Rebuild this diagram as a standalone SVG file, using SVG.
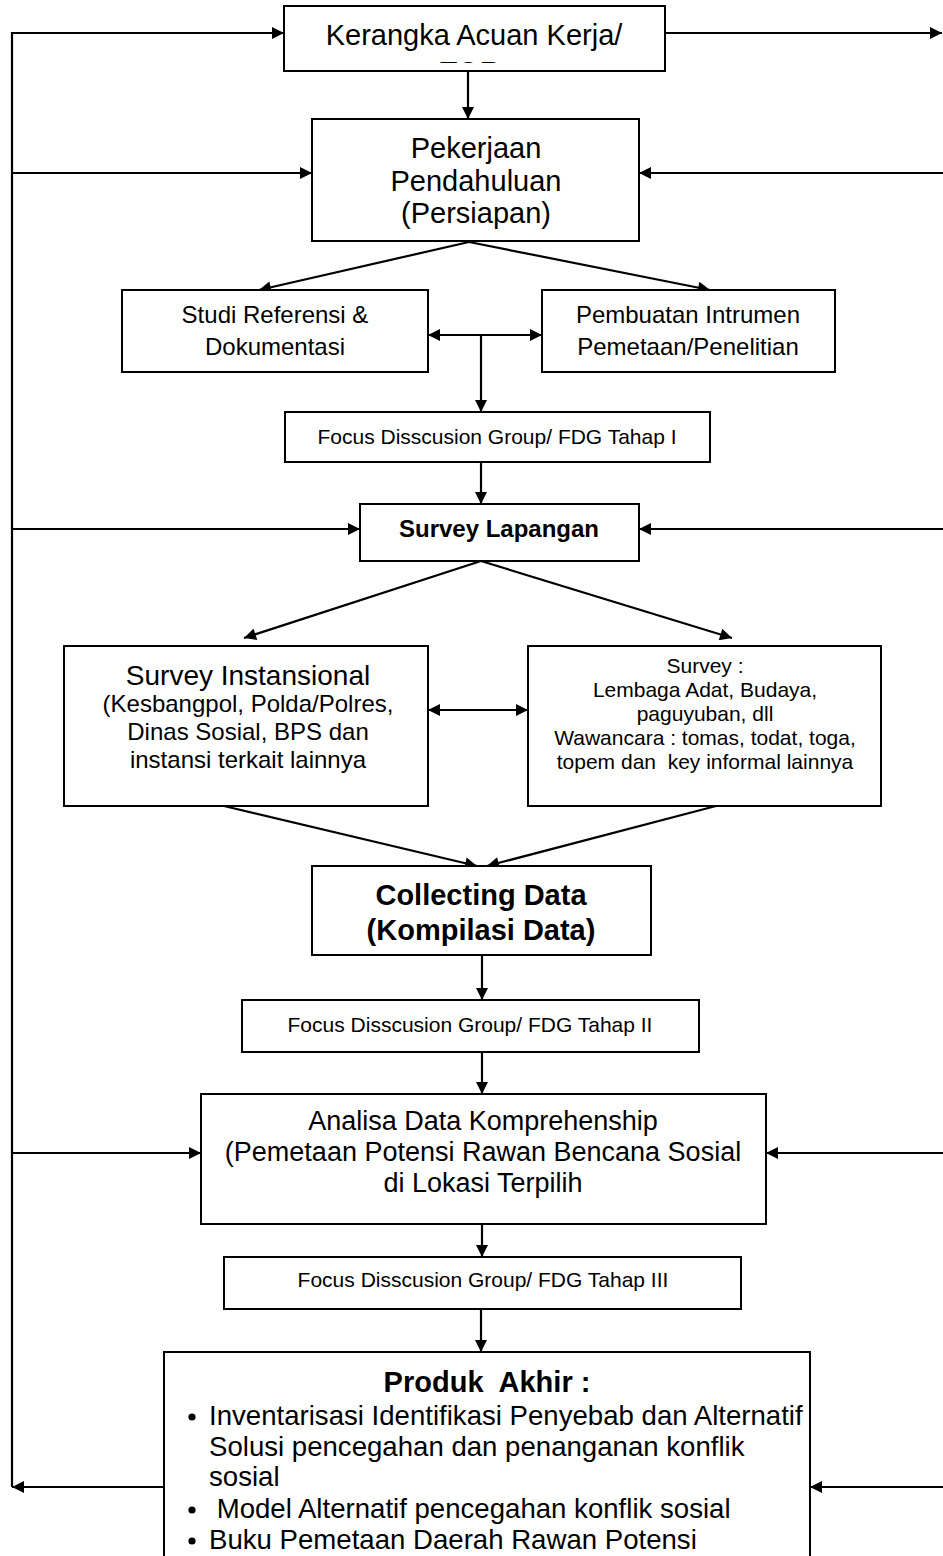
<svg xmlns="http://www.w3.org/2000/svg" width="943" height="1556" viewBox="0 0 943 1556">
<style>
.box{fill:#fff;stroke:#000;stroke-width:2}
.ln{fill:none;stroke:#000;stroke-width:2.2}
.t{font-family:"Liberation Sans",Arial,sans-serif;fill:#000;text-anchor:middle}
.b{font-weight:bold}
.l{text-anchor:start}
</style>
<defs>
<marker id="ah" viewBox="0 0 12 12" refX="12" refY="6" markerWidth="13" markerHeight="12" markerUnits="userSpaceOnUse" orient="auto-start-reverse"><path d="M0,0 L12,6 L0,12 z" fill="#000"/></marker>
<clipPath id="torclip"><rect x="284" y="58" width="381" height="5"/></clipPath>
</defs>
<rect width="943" height="1556" fill="#fff"/>
<g id="connectors">
<polyline class="ln" points="12,1487 12,33 284,33" marker-end="url(#ah)"/>
<line class="ln" x1="665" y1="33" x2="942" y2="33" marker-end="url(#ah)"/>
<line class="ln" x1="468" y1="71" x2="468" y2="119" marker-end="url(#ah)"/>
<line class="ln" x1="12" y1="173" x2="312" y2="173" marker-end="url(#ah)"/>
<line class="ln" x1="943" y1="173" x2="639" y2="173" marker-end="url(#ah)"/>
<line class="ln" x1="469" y1="242" x2="259" y2="290" marker-end="url(#ah)"/>
<line class="ln" x1="469" y1="242" x2="710" y2="290" marker-end="url(#ah)"/>
<line class="ln" x1="428" y1="335" x2="542" y2="335" marker-start="url(#ah)" marker-end="url(#ah)"/>
<line class="ln" x1="481" y1="335" x2="481" y2="412" marker-end="url(#ah)"/>
<line class="ln" x1="481" y1="462" x2="481" y2="504" marker-end="url(#ah)"/>
<line class="ln" x1="12" y1="529" x2="360" y2="529" marker-end="url(#ah)"/>
<line class="ln" x1="943" y1="529" x2="639" y2="529" marker-end="url(#ah)"/>
<line class="ln" x1="481" y1="561" x2="244" y2="638" marker-end="url(#ah)"/>
<line class="ln" x1="481" y1="561" x2="732" y2="638" marker-end="url(#ah)"/>
<line class="ln" x1="428" y1="710" x2="528" y2="710" marker-start="url(#ah)" marker-end="url(#ah)"/>
<line class="ln" x1="224" y1="806" x2="477" y2="866" marker-end="url(#ah)"/>
<line class="ln" x1="716" y1="806" x2="487" y2="866" marker-end="url(#ah)"/>
<line class="ln" x1="482" y1="955" x2="482" y2="1000" marker-end="url(#ah)"/>
<line class="ln" x1="482" y1="1052" x2="482" y2="1094" marker-end="url(#ah)"/>
<line class="ln" x1="12" y1="1153" x2="201" y2="1153" marker-end="url(#ah)"/>
<line class="ln" x1="943" y1="1153" x2="766" y2="1153" marker-end="url(#ah)"/>
<line class="ln" x1="482" y1="1224" x2="482" y2="1257" marker-end="url(#ah)"/>
<line class="ln" x1="481" y1="1309" x2="481" y2="1352" marker-end="url(#ah)"/>
<line class="ln" x1="164" y1="1487" x2="12" y2="1487" marker-end="url(#ah)"/>
<line class="ln" x1="943" y1="1487" x2="810" y2="1487" marker-end="url(#ah)"/>
</g>
<g id="kak">
<rect class="box" x="284" y="6" width="381" height="65"/>
<text class="t" x="474" y="45" font-size="29">Kerangka Acuan Kerja/</text>
<text class="t" x="470" y="82" font-size="29" clip-path="url(#torclip)">TOR</text>
</g>
<g id="pendahuluan">
<rect class="box" x="312" y="119" width="327" height="122"/>
<text class="t" x="476" y="158" font-size="29">Pekerjaan</text>
<text class="t" x="476" y="191" font-size="29">Pendahuluan</text>
<text class="t" x="476" y="223" font-size="29">(Persiapan)</text>
</g>
<g id="studi">
<rect class="box" x="122" y="290" width="306" height="82"/>
<text class="t" x="275" y="323" font-size="24">Studi Referensi &amp;</text>
<text class="t" x="275" y="355" font-size="24">Dokumentasi</text>
</g>
<g id="instrumen">
<rect class="box" x="542" y="290" width="293" height="82"/>
<text class="t" x="688" y="323" font-size="24">Pembuatan Intrumen</text>
<text class="t" x="688" y="355" font-size="24">Pemetaan/Penelitian</text>
</g>
<g id="fdg1">
<rect class="box" x="285" y="412" width="425" height="50"/>
<text class="t" x="497" y="444" font-size="21">Focus Disscusion Group/ FDG Tahap I</text>
</g>
<g id="survey-lapangan">
<rect class="box" x="360" y="504" width="279" height="57"/>
<text class="t b" x="499" y="537" font-size="24">Survey Lapangan</text>
</g>
<g id="survey-instansional">
<rect class="box" x="64" y="646" width="364" height="160"/>
<text class="t" x="248" y="685" font-size="28">Survey Instansional</text>
<text class="t" x="248" y="712" font-size="24">(Kesbangpol, Polda/Polres,</text>
<text class="t" x="248" y="740" font-size="24">Dinas Sosial, BPS dan</text>
<text class="t" x="248" y="768" font-size="24">instansi terkait lainnya</text>
</g>
<g id="survey-lembaga">
<rect class="box" x="528" y="646" width="353" height="160"/>
<text class="t" x="705" y="673" font-size="21">Survey :</text>
<text class="t" x="705" y="697" font-size="21">Lembaga Adat, Budaya,</text>
<text class="t" x="705" y="721" font-size="21">paguyuban, dll</text>
<text class="t" x="705" y="745" font-size="21">Wawancara : tomas, todat, toga,</text>
<text class="t" x="705" y="769" font-size="21" xml:space="preserve">topem dan  key informal lainnya</text>
</g>
<g id="collecting">
<rect class="box" x="312" y="866" width="339" height="89"/>
<text class="t b" x="481" y="905" font-size="29">Collecting Data</text>
<text class="t b" x="481" y="940" font-size="29">(Kompilasi Data)</text>
</g>
<g id="fdg2">
<rect class="box" x="242" y="1000" width="457" height="52"/>
<text class="t" x="470" y="1032" font-size="21">Focus Disscusion Group/ FDG Tahap II</text>
</g>
<g id="analisa">
<rect class="box" x="201" y="1094" width="565" height="130"/>
<text class="t" x="483" y="1130" font-size="27">Analisa Data Komprehenship</text>
<text class="t" x="483" y="1161" font-size="27">(Pemetaan Potensi Rawan Bencana Sosial</text>
<text class="t" x="483" y="1192" font-size="27">di Lokasi Terpilih</text>
</g>
<g id="fdg3">
<rect class="box" x="224" y="1257" width="517" height="52"/>
<text class="t" x="483" y="1287" font-size="21">Focus Disscusion Group/ FDG Tahap III</text>
</g>
<g id="produk">
<rect class="box" x="164" y="1352" width="646" height="220"/>
<text class="t b" x="487" y="1392" font-size="29" xml:space="preserve">Produk  Akhir :</text>
<circle cx="192" cy="1417" r="3.6"/>
<text class="t l" x="209" y="1425" font-size="27.6">Inventarisasi Identifikasi Penyebab dan Alternatif</text>
<text class="t l" x="209" y="1456" font-size="27.6">Solusi pencegahan dan penanganan konflik</text>
<text class="t l" x="209" y="1486" font-size="27.6">sosial</text>
<circle cx="192" cy="1510" r="3.6"/>
<text class="t l" x="209" y="1518" font-size="27.6" xml:space="preserve"> Model Alternatif pencegahan konflik sosial</text>
<circle cx="192" cy="1541" r="3.6"/>
<text class="t l" x="209" y="1549" font-size="27.6">Buku Pemetaan Daerah Rawan Potensi</text>
</g>
</svg>
